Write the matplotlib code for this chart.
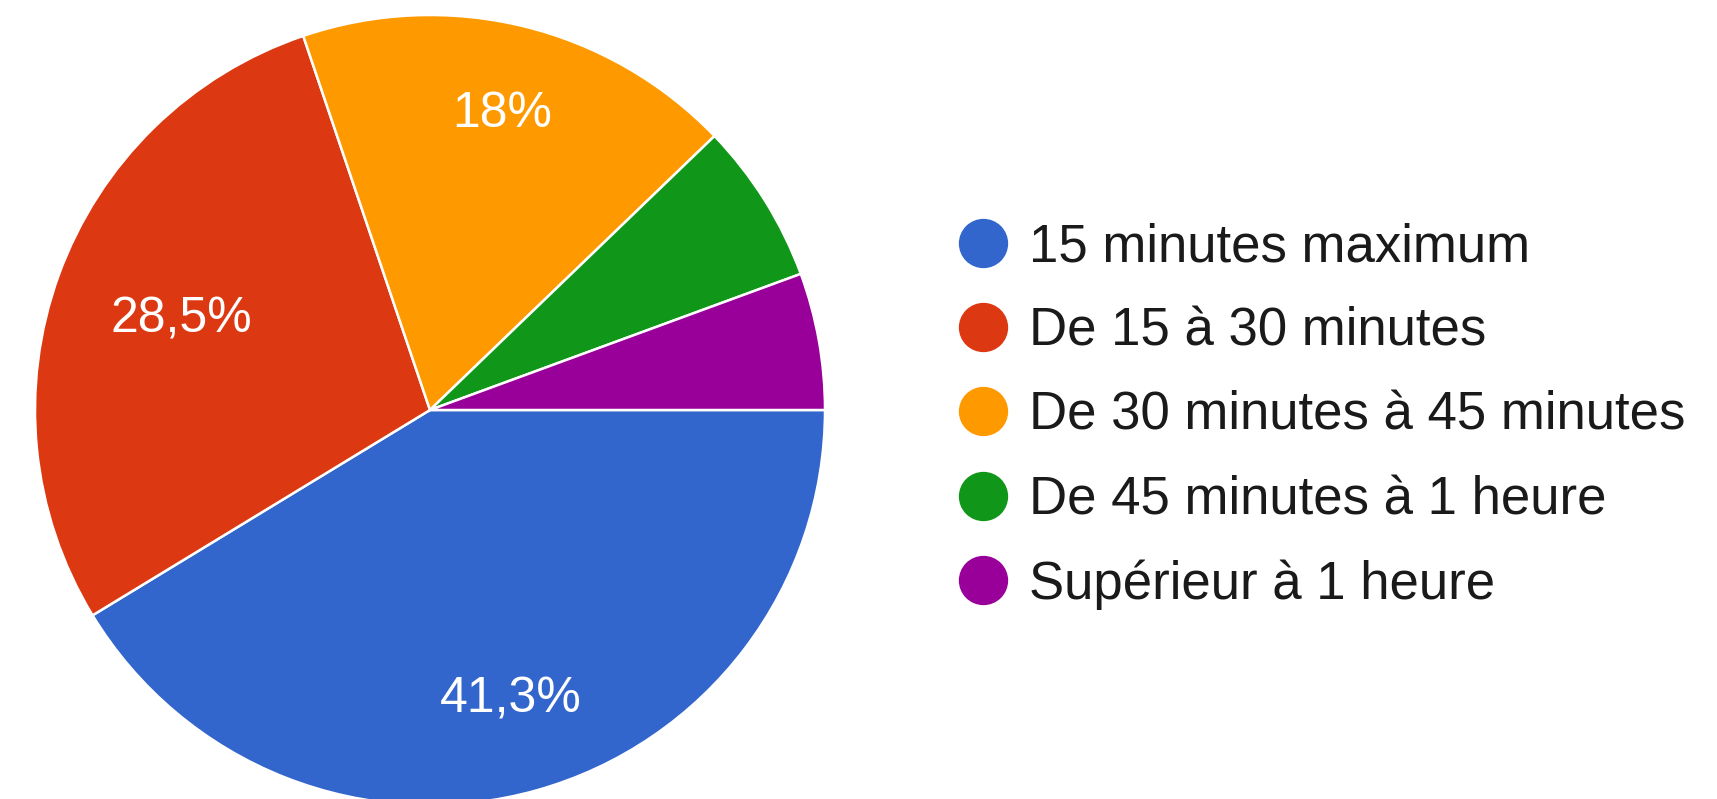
import matplotlib
matplotlib.use("Agg")
import matplotlib.pyplot as plt
from matplotlib.lines import Line2D
import numpy as np

categories = ["15 minutes maximum", "De 15 à 30 minutes",
              "De 30 minutes à 45 minutes", "De 45 minutes à 1 heure",
              "Supérieur à 1 heure"]
values = [41.3, 28.5, 18.0, 6.6, 5.6]
colors = ["#3366CC", "#DC3912", "#FF9900", "#109618", "#990099"]
label_dist = [0.76, 0.67, 0.77, 0.75, 0.75]
min_label = 10.0

plt.rcParams['font.family'] = ['Liberation Sans', 'DejaVu Sans']

W, H = 1717, 799
fig = plt.figure(figsize=(W / 100, H / 100), dpi=100)
# pie axes: square box, center (430, 410) px, radius 395 px
cx, cy, r = 430, 410, 395
ax = fig.add_axes([(cx - r) / W, (H - cy - r) / H, 2 * r / W, 2 * r / H])

wedges, _ = ax.pie(values, colors=colors, startangle=0, counterclock=False,
                   radius=1.0,
                   wedgeprops=dict(edgecolor="white", linewidth=1.8))

for w, v, d in zip(wedges, values, label_dist):
    if v < min_label:
        continue
    ang = np.deg2rad((w.theta1 + w.theta2) / 2)
    txt = f"{v:.1f}".rstrip('0').rstrip('.').replace('.', ',') + "%"
    ax.text(d * np.cos(ang), d * np.sin(ang), txt, ha='center', va='center',
            color='white', fontsize=36)

ax.set_xlim(-1, 1)
ax.set_ylim(-1, 1)
ax.set_aspect('auto')
ax.axis('off')

handles = [Line2D([], [], marker='o', linestyle='', markersize=34.5,
                  markerfacecolor=c, markeredgecolor=c) for c in colors]
fs = 38
fpx = fs * 100 / 72
fig.legend(handles, categories, loc='center left',
           bbox_to_anchor=((983 - fpx / 2) / W, 1 - 416 / H),
           frameon=False, fontsize=fs, handlelength=1.0,
           handletextpad=(1029 - 983 - fpx / 2) / fpx,
           labelspacing=0.65, borderpad=0, borderaxespad=0,
           labelcolor='#1a1a1a')

fig.savefig("out.png", dpi=100, facecolor='white')
